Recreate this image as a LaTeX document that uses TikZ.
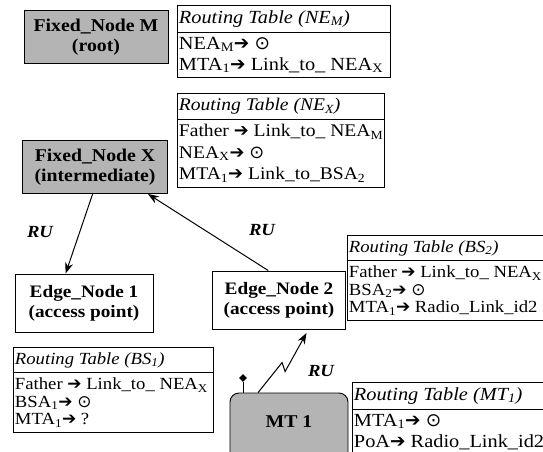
\documentclass[tikz,border=0pt]{standalone}
\usepackage{fontspec}
\setmainfont{Liberation Serif}[FakeStretch=1.1]
\newfontfamily\symfont{DejaVu Sans}
\usetikzlibrary{positioning, arrows.meta, shapes.multipart, shapes.geometric, calc}
\definecolor{nodegray}{HTML}{B4B4B4}
\newcommand{\rarr}{{\symfont\bfseries ➔}}
\newcommand{\here}{{\symfont ⊙}}
\newcommand{\sub}[1]{\textsubscript{#1}}

\begin{document}
\begin{tikzpicture}[x=1pt, y=-1pt,
        fixbox/.style={draw, line width=0.9pt, fill=nodegray, minimum width=#1, minimum height=53pt, align=center, font=\fontsize{18}{20}\selectfont\bfseries},
        edgebox/.style={draw, line width=0.9pt, minimum width=#1, minimum height=58pt, align=center, font=\fontsize{17.5}{20}\selectfont\bfseries},
        rtable/.style={draw, line width=0.9pt, rectangle split, rectangle split parts=2, rectangle split part align=left, anchor=north west, minimum width=#1, align=left, inner xsep=1.5pt, inner ysep=4.5pt},
        bigtab/.style={font=\fontsize{18.5}{21}\selectfont},
        midtab/.style={font=\fontsize{17.8}{21.5}\selectfont},
        smalltab/.style={font=\fontsize{17}{17.5}\selectfont},
        ru/.style={line width=1pt, -{Stealth[length=11pt, width=8pt]}},
        rulabel/.style={font=\fontsize{17}{18}\selectfont\bfseries\itshape}
    ]
      \useasboundingbox (0,0) rectangle (543,452);
      \clip (0,0) rectangle (543,452);

      % Fixed nodes
      \node[fixbox=144pt] (fixM) at (96,37) {Fixed\_Node M\\(root)};
      \node[fixbox=145pt] (fixX) at (95,167) {Fixed\_Node X\\(intermediate)};

      % Edge nodes
      \node[edgebox=138pt] (edge1) at (84,303) {Edge\_Node 1\\(access point)};
      \node[edgebox=133pt] (edge2) at (279,300) {Edge\_Node 2\\(access point)};

      % Mobile terminal
      \node[draw, line width=0.9pt, fill=nodegray, rounded corners=9pt, minimum width=118pt, minimum height=80pt] (mt) at (289,433) {};
      \node[font=\fontsize{18}{20}\selectfont\bfseries] (mtlabel) at (289,422) {MT 1};
      \node[diamond, fill=black, inner sep=0pt, minimum size=8pt] (ant) at (243,378) {};
      \draw[line width=1pt] (ant) -- (ant |- mt.north);

      % Routing tables
      \node[rtable=213pt, bigtab] (rtM) at (177,5) {\textit{Routing Table (NE\sub{M})}
        \nodepart{two} NEA\sub{M}\rarr\ \here\\MTA\sub{1}\rarr\ Link\_to\_ NEA\sub{X}};
      \node[rtable=205pt, midtab] (rtX) at (177,93) {\textit{Routing Table (NE\sub{X})}
        \nodepart{two} Father \rarr\ Link\_to\_ NEA\sub{M}\\NEA\sub{X}\rarr\ \here\\MTA\sub{1}\rarr\ Link\_to\_BSA\sub{2}};
      \node[rtable=240pt, smalltab] (rtBS2) at (347,235) {\textit{Routing Table (BS\sub{2})}
        \nodepart{two} Father \rarr\ Link\_to\_ NEA\sub{X}\\BSA\sub{2}\rarr\ \here\\MTA\sub{1}\rarr\ Radio\_Link\_id2};
      \node[rtable=200pt, smalltab] (rtBS1) at (13,347) {\textit{Routing Table (BS\sub{1})}
        \nodepart{two} Father \rarr\ Link\_to\_ NEA\sub{X}\\BSA\sub{1}\rarr\ \here\\MTA\sub{1}\rarr\ ?};
      \node[rtable=240pt, bigtab] (rtMT) at (352,382) {\textit{Routing Table (MT\sub{1})}
        \nodepart{two} MTA\sub{1}\rarr\ \here\\PoA\rarr\ Radio\_Link\_id2\\ \strut};

      % RU links
      \draw[ru] (fixX.-95) -- (edge1.122);
      \draw[ru] (edge2.110) -- (fixX.-27);
      \draw[ru, shorten >=4pt] ($(mt.north west)!0.24!(mt.north east)$) -- ++(24,-30) -- ++(3,9) -- (edge2.-45);
      \node[rulabel] (ru1) at (40,232) {RU};
      \node[rulabel] (ru2) at (262,230) {RU};
      \node[rulabel] (ru3) at (321,371) {RU};
    \end{tikzpicture}
\end{document}
